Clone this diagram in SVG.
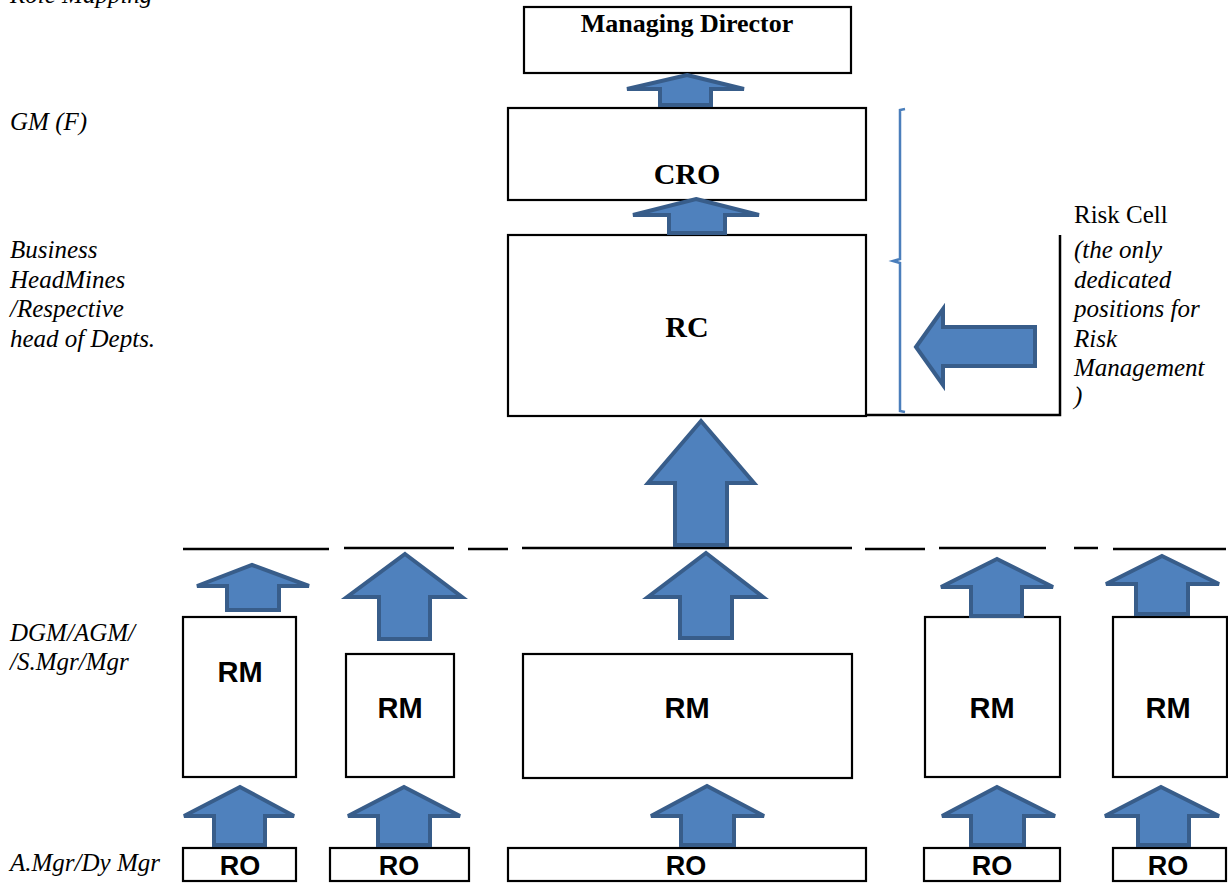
<svg xmlns="http://www.w3.org/2000/svg" width="1228" height="887" viewBox="0 0 1228 887">
<style>
.box{fill:#fff;stroke:#000;stroke-width:2.2}
.arr{fill:#4f81bd;stroke:#385d8a;stroke-width:4;stroke-linejoin:miter}
.ln{stroke:#000;stroke-width:2.5;fill:none}
.lbl{font-family:"Liberation Serif","Times New Roman",serif;font-style:italic;font-size:25px;fill:#000}
.ser{font-family:"Liberation Serif","Times New Roman",serif;font-weight:bold;fill:#000;text-anchor:middle}
.sans{font-family:"Liberation Sans",Arial,sans-serif;font-weight:bold;fill:#000;text-anchor:middle}
</style>
<rect width="1228" height="887" fill="#fff"/>
<g id="labels">
<text class="lbl" x="10" y="3">Role Mapping</text>
<text class="lbl" x="10" y="130">GM (F)</text>
<text class="lbl" x="10" y="258">Business</text>
<text class="lbl" x="10" y="288">HeadMines</text>
<text class="lbl" x="10" y="317">/Respective</text>
<text class="lbl" x="10" y="347">head of Depts.</text>
<text class="lbl" x="10" y="641">DGM/AGM/</text>
<text class="lbl" x="10" y="670">/S.Mgr/Mgr</text>
<text class="lbl" x="10" y="871">A.Mgr/Dy Mgr</text>
</g>
<g id="riskcell">
<text x="1074" y="223" style="font-family:'Liberation Serif','Times New Roman',serif;font-size:25px">Risk Cell</text>
<text class="lbl" x="1074" y="258">(the only</text>
<text class="lbl" x="1074" y="288">dedicated</text>
<text class="lbl" x="1074" y="317">positions for</text>
<text class="lbl" x="1074" y="347">Risk</text>
<text class="lbl" x="1074" y="376">Management</text>
<text class="lbl" x="1074" y="404">)</text>
<path d="M905,109 L900,110 L900,259 L893,261 L900,263 L900,411 L905,412" fill="none" stroke="#4a7ebb" stroke-width="2.5"/>
<path d="M866,415 L1060,415 L1060,235" class="ln" stroke-width="2.2"/>
</g>
<g id="md"><rect class="box" x="524" y="7" width="327" height="66"/><text class="ser" x="687" y="32" font-size="26">Managing Director</text></g>
<g id="cro"><rect class="box" x="508" y="108" width="358" height="92"/><text class="ser" x="687" y="184" font-size="30">CRO</text></g>
<g id="rc"><rect class="box" x="508" y="235" width="358" height="181"/><text class="ser" x="687" y="337" font-size="30">RC</text></g>
<g id="rm1"><rect class="box" x="183" y="617" width="113" height="160"/><text class="sans" x="240" y="682" font-size="29">RM</text></g>
<g id="rm2"><rect class="box" x="346" y="654" width="108" height="123"/><text class="sans" x="400" y="718" font-size="29">RM</text></g>
<g id="rm3"><rect class="box" x="523" y="654" width="329" height="124"/><text class="sans" x="687" y="718" font-size="29">RM</text></g>
<g id="rm4"><rect class="box" x="925" y="617" width="135" height="160"/><text class="sans" x="992" y="718" font-size="29">RM</text></g>
<g id="rm5"><rect class="box" x="1113" y="617" width="114" height="160"/><text class="sans" x="1168" y="718" font-size="29">RM</text></g>
<g id="ro1"><rect class="box" x="183" y="848" width="113" height="33"/><text class="sans" x="240" y="875" font-size="27">RO</text></g>
<g id="ro2"><rect class="box" x="330" y="848" width="139" height="33"/><text class="sans" x="399" y="875" font-size="27">RO</text></g>
<g id="ro3"><rect class="box" x="508" y="848" width="358" height="33"/><text class="sans" x="686" y="875" font-size="27">RO</text></g>
<g id="ro4"><rect class="box" x="924" y="848" width="136" height="33"/><text class="sans" x="992" y="875" font-size="27">RO</text></g>
<g id="ro5"><rect class="box" x="1113" y="848" width="113" height="33"/><text class="sans" x="1168" y="875" font-size="27">RO</text></g>
<g id="connectors">
<path class="ln" d="M183,549 H329 M344,548 H454 M468,549 H508 M522,548 H852 M865,549 H925 M939,548 H1046 M1074,548 H1098 M1113,549 H1226"/>
<path class="arr" d="M687,75 L744,89 L711,89 L711,105 L660,105 L660,89 L627,89 Z"/>
<path class="arr" d="M696,199 L759,215 L725,215 L725,233 L669,233 L669,215 L633,215 Z"/>
<path class="arr" d="M701,421 L754,483 L727,483 L727,545 L675,545 L675,483 L648,483 Z"/>
<path class="arr" d="M916,347 L943,309 L943,327 L1035,327 L1035,366 L943,366 L943,385 Z"/>
<path class="arr" d="M252,565 L309,586 L279,586 L279,610 L227,610 L227,586 L197,586 Z"/>
<path class="arr" d="M405,554 L462,597 L430,597 L430,639 L379,639 L379,597 L347,597 Z"/>
<path class="arr" d="M706,553 L763,597 L732,597 L732,638 L680,638 L680,597 L648,597 Z"/>
<path class="arr" d="M997,559 L1053,587 L1022,587 L1022,616 L971,616 L971,587 L941,587 Z"/>
<path class="arr" d="M1162,556 L1219,584 L1188,584 L1188,614 L1136,614 L1136,584 L1106,584 Z"/>
<path class="arr" d="M240,787 L294,816 L265,816 L265,845 L214,845 L214,816 L184,816 Z"/>
<path class="arr" d="M404,787 L460,816 L430,816 L430,845 L378,845 L378,816 L348,816 Z"/>
<path class="arr" d="M707,786 L764,816 L734,816 L734,845 L681,845 L681,816 L651,816 Z"/>
<path class="arr" d="M997,787 L1055,816 L1024,816 L1024,845 L971,845 L971,816 L942,816 Z"/>
<path class="arr" d="M1161,787 L1219,816 L1189,816 L1189,845 L1138,845 L1138,816 L1105,816 Z"/>
</g>
</svg>
